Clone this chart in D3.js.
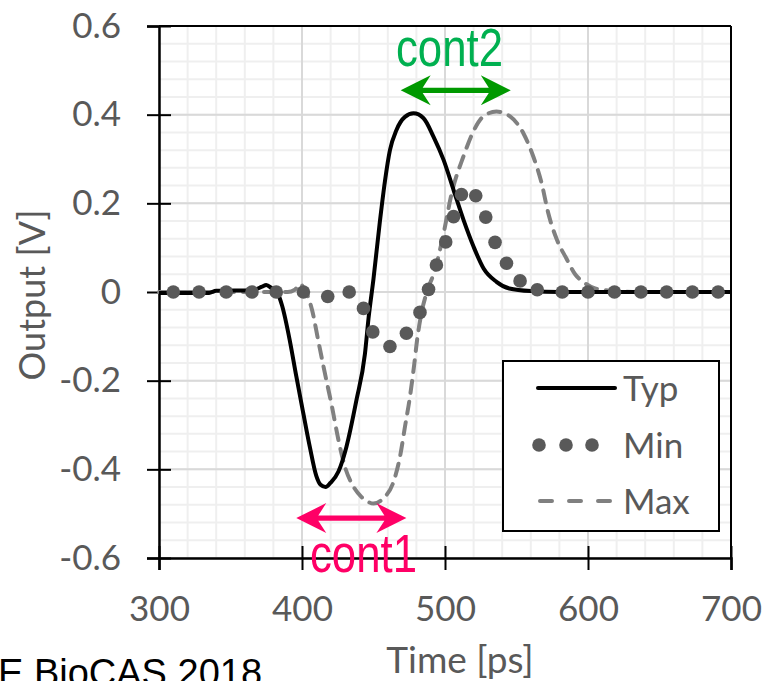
<!DOCTYPE html>
<html>
<head>
<meta charset="utf-8">
<script src="https://cdn.jsdelivr.net/npm/d3@7/dist/d3.min.js"></script>
<style>
  html, body { margin: 0; padding: 0; background: #fff; }
  svg { display: block; }
</style>
</head>
<body>
<svg id="chart" width="766" height="681"></svg>
<script>
// ---------------- DATA ----------------
const xTicks = [300, 400, 500, 600, 700];
const xTickLabels = ["300", "400", "500", "600", "700"];
const yTicks = [-0.6, -0.4, -0.2, 0, 0.2, 0.4, 0.6];
const yTickLabels = ["-0.6", "-0.4", "-0.2", "0", "0.2", "0.4", "0.6"];

// Typ (solid black)
const typT = [300, 335, 340, 365, 372, 375, 379, 382.5, 386, 391.5, 396, 401, 405.5, 410, 413, 416.5, 420, 425.5, 431, 438, 444, 446.5, 450, 454.5, 458, 461.5, 466, 472, 478, 485, 492, 499, 506, 513, 520, 527, 536, 545, 560, 580, 700];
const typV = [-0.002, -0.002, 0.003, 0.004, 0.012, 0.016, 0.008, 0, -0.03, -0.11, -0.19, -0.275, -0.35, -0.415, -0.435, -0.44, -0.43, -0.405, -0.35, -0.245, -0.14, -0.06, 0.03, 0.16, 0.25, 0.32, 0.365, 0.395, 0.403, 0.392, 0.35, 0.298, 0.23, 0.162, 0.102, 0.053, 0.023, 0.008, 0.002, 0, 0];

// Min (dots)
const minT = [310, 328, 347, 365, 382, 401, 418, 433, 443, 449.5, 461.5, 473, 482.5, 488.5, 494, 500.5, 506, 511.5, 521.5, 528.5, 535, 543, 552.5, 564.5, 582, 600, 618.5, 637, 655, 673, 691];
const minV = [0, 0, 0, 0, 0, 0, -0.01, 0, -0.037, -0.09, -0.123, -0.093, -0.046, 0.006, 0.061, 0.113, 0.17, 0.22, 0.217, 0.169, 0.112, 0.065, 0.025, 0.005, 0, 0, 0, 0, 0, 0, 0];

// Max (dashed grey)
const maxT = [300, 390, 395, 398.5, 402, 407, 411.5, 416, 421, 425.5, 430, 436, 441.5, 446, 450, 457, 464, 468.5, 472, 475.5, 478.3, 480.5, 483.5, 487, 493, 499, 504.7, 512.8, 519.8, 526.8, 536, 545.5, 554.8, 561.8, 567.6, 572.2, 578, 585, 591, 597, 605, 620, 640, 700];
const maxV = [0, 0, 0.005, 0.018, 0.005, -0.04, -0.112, -0.183, -0.259, -0.334, -0.394, -0.439, -0.462, -0.473, -0.477, -0.465, -0.428, -0.372, -0.304, -0.236, -0.168, -0.108, -0.048, -0.003, 0.05, 0.132, 0.223, 0.305, 0.362, 0.396, 0.407, 0.396, 0.358, 0.305, 0.245, 0.178, 0.12, 0.075, 0.04, 0.022, 0.008, 0.002, 0, 0];

const legendLabels = ["Typ", "Min", "Max"];

// annotations: double arrows in data space
const annLabels = ["cont1", "cont2"];
const annFrom = [396, 469];
const annTo = [473, 546];
const annLevel = [-0.51, 0.455];

// ---------------- CHART ----------------
const svg = d3.select("#chart");
const W = 766, H = 681;
svg.append("rect").attr("width", W).attr("height", H).attr("fill", "#fff");

const x = d3.scaleLinear().domain([300, 700]).range([159, 731]);
const y = d3.scaleLinear().domain([-0.6, 0.6]).range([558, 26]);

const labelFont = "Lato, 'Open Sans', sans-serif";
const textGrey = "#595959";

// grid
const grid = svg.append("g");
const xMinor = d3.range(0, 21).map(i => 300 + i * 20);
const yMinor = d3.range(-15, 16).map(i => i * 0.04);
grid.selectAll(".vminor").data(xMinor).enter().append("line")
  .attr("x1", d => x(d)).attr("x2", d => x(d))
  .attr("y1", y(-0.6)).attr("y2", y(0.6))
  .attr("stroke", "#efefef").attr("stroke-width", 2);
grid.selectAll(".hminor").data(yMinor).enter().append("line")
  .attr("x1", x(300)).attr("x2", x(700))
  .attr("y1", d => y(d)).attr("y2", d => y(d))
  .attr("stroke", "#efefef").attr("stroke-width", 2);
grid.selectAll(".vmajor").data(xTicks).enter().append("line")
  .attr("x1", d => x(d)).attr("x2", d => x(d))
  .attr("y1", y(-0.6)).attr("y2", y(0.6))
  .attr("stroke", "#d9d9d9").attr("stroke-width", 2);
grid.selectAll(".hmajor").data(yTicks).enter().append("line")
  .attr("x1", x(300)).attr("x2", x(700))
  .attr("y1", d => y(d)).attr("y2", d => y(d))
  .attr("stroke", "#d9d9d9").attr("stroke-width", 2);

// frame (top / right)
svg.append("line").attr("x1", x(300)).attr("x2", x(700)).attr("y1", y(0.6)).attr("y2", y(0.6))
  .attr("stroke", "#000").attr("stroke-width", 2);
svg.append("line").attr("x1", x(700)).attr("x2", x(700)).attr("y1", y(0.6)).attr("y2", y(-0.6))
  .attr("stroke", "#000").attr("stroke-width", 2);

// axes
const xAxis = d3.axisBottom(x).tickValues(xTicks).tickFormat((d, i) => xTickLabels[i]).tickSize(12).tickPadding(26);
const yAxis = d3.axisLeft(y).tickValues(yTicks).tickFormat((d, i) => yTickLabels[i]).tickSize(12).tickPadding(26);

const gx = svg.append("g").attr("transform", `translate(0,${y(-0.6)})`).call(xAxis);
const gy = svg.append("g").attr("transform", `translate(${x(300)},0)`).call(yAxis);
[gx, gy].forEach(g => {
  g.select(".domain").attr("stroke", "#000").attr("stroke-width", 2.5);
  g.selectAll(".tick line").attr("stroke", "#000").attr("stroke-width", 2);
  g.selectAll(".tick text").attr("fill", textGrey).style("font-family", labelFont).style("font-size", "35px");
});
gx.selectAll(".tick line").attr("y1", -12).attr("y2", 12);
gx.selectAll(".tick text").attr("dy", "0.71em").attr("y", 38);
gy.selectAll(".tick line").attr("x1", -12).attr("x2", 12);
gy.selectAll(".tick text").attr("x", -38);

// axis titles
svg.append("text").text("Time [ps]")
  .attr("x", 460).attr("y", 673).attr("text-anchor", "middle")
  .attr("fill", textGrey).style("font-family", labelFont).style("font-size", "37px");
svg.append("text").text("Output [V]")
  .attr("transform", "translate(45,295) rotate(-90)").attr("text-anchor", "middle")
  .attr("fill", textGrey).style("font-family", labelFont).style("font-size", "36px");

// series
const line = d3.line().x(d => x(d[0])).y(d => y(d[1])).curve(d3.curveMonotoneX);
const plot = svg.append("g");
plot.append("path").datum(maxT.map((t, i) => [t, maxV[i]]))
  .attr("d", line).attr("fill", "none").attr("stroke", "#808080")
  .attr("stroke-width", 4).attr("stroke-dasharray", "12,9").attr("stroke-linecap", "round");
plot.append("path").datum(typT.map((t, i) => [t, typV[i]]))
  .attr("d", line).attr("fill", "none").attr("stroke", "#000")
  .attr("stroke-width", 4).attr("stroke-linejoin", "round");
plot.selectAll(".dot").data(minT.map((t, i) => [t, minV[i]])).enter().append("circle")
  .attr("cx", d => x(d[0])).attr("cy", d => y(d[1])).attr("r", 6.8).attr("fill", "#595959");

// legend
const lg = svg.append("g");
lg.append("rect").attr("x", 503).attr("y", 361).attr("width", 216).attr("height", 170)
  .attr("fill", "#fff").attr("stroke", "#000").attr("stroke-width", 2);
const rowY = [388, 445, 501];
lg.append("line").attr("x1", 538).attr("x2", 615).attr("y1", rowY[0]).attr("y2", rowY[0])
  .attr("stroke", "#000").attr("stroke-width", 4).attr("stroke-linecap", "round");
lg.selectAll(".ldot").data([539, 566, 592]).enter().append("circle")
  .attr("cx", d => d).attr("cy", rowY[1]).attr("r", 6.8).attr("fill", "#595959");
lg.append("line").attr("x1", 540).attr("x2", 615).attr("y1", rowY[2]).attr("y2", rowY[2])
  .attr("stroke", "#808080").attr("stroke-width", 4).attr("stroke-dasharray", "12,17").attr("stroke-linecap", "round");
lg.selectAll(".ltext").data(legendLabels).enter().append("text")
  .text(d => d).attr("x", 623).attr("y", (d, i) => rowY[i] + 13)
  .attr("fill", textGrey).style("font-family", labelFont).style("font-size", "35px");

// annotations
const annColor = ["#ff0066", "#009900"];
const annTextColor = ["#ff0066", "#00b050"];
function dblArrow(x1, x2, yy) {
  const hl = 30, hw = 15, nl = 22, sw = 2.6;
  return `M${x1},${yy} L${x1 + hl},${yy - hw} L${x1 + nl},${yy - sw} L${x2 - nl},${yy - sw} L${x2 - hl},${yy - hw} L${x2},${yy} L${x2 - hl},${yy + hw} L${x2 - nl},${yy + sw} L${x1 + nl},${yy + sw} L${x1 + hl},${yy + hw} Z`;
}
annLabels.forEach((lab, i) => {
  svg.append("path").attr("d", dblArrow(x(annFrom[i]), x(annTo[i]), y(annLevel[i]))).attr("fill", annColor[i]);
});
const annTextX = [310, 396];
const annTextY = [572, 66];
annLabels.forEach((lab, i) => {
  svg.append("text").text(lab)
    .attr("transform", `translate(${annTextX[i]},${annTextY[i]}) scale(0.81,1)`)
    .attr("fill", annTextColor[i]).style("font-family", "'Liberation Sans', Arial, sans-serif").style("font-size", "54px");
});

// footer (cropped at the bottom-left in the reference)
svg.append("text").text("E BioCAS 2018").attr("x", -2).attr("y", 686)
  .attr("fill", "#000").style("font-family", "'Liberation Sans', Arial, sans-serif").style("font-size", "38px");
</script>
</body>
</html>
